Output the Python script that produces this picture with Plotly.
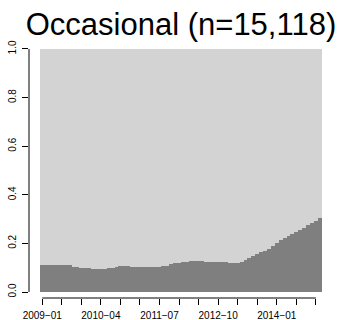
import pandas as pd
import plotly.graph_objects as go

# Monthly categories, Jan 2009 - Dec 2014
months = [d.strftime("%Y-%m") for d in pd.date_range("2009-01-01", "2014-12-01", freq="MS")]

# Share of the "occasional" group in the dark (lower) segment, per month
share = [
    0.110, 0.110, 0.110, 0.110, 0.110, 0.110, 0.110, 0.110,
    0.102, 0.101, 0.100,
    0.098, 0.097, 0.096, 0.095, 0.096, 0.096, 0.097,
    0.100, 0.104,
    0.107, 0.108, 0.106,
    0.104, 0.103, 0.103, 0.102, 0.102, 0.102, 0.103, 0.103,
    0.107, 0.109,
    0.115, 0.118, 0.119,
    0.122, 0.124, 0.126, 0.127,
    0.128, 0.128, 0.125, 0.124, 0.124,
    0.124, 0.123, 0.122, 0.121, 0.120,
    0.119, 0.122,
    0.130, 0.140, 0.148, 0.155, 0.163, 0.170, 0.178, 0.190,
    0.203, 0.215, 0.224, 0.232, 0.240, 0.248, 0.257, 0.265,
    0.274, 0.283, 0.293, 0.306,
]
rest = [1 - v for v in share]

tick_months = months[::5]
labelled = ["2009-01", "2010-04", "2011-07", "2012-10", "2014-01"]
tick_text = [m.replace("-", "\u2212") if m in labelled else "" for m in tick_months]

y_ticks = [0.0, 0.2, 0.4, 0.6, 0.8, 1.0]
y_text = ["0.0", "0.2", "0.4", "0.6", "0.8", "1.0"]

DARK = "#7f7f7f"
LIGHT = "#d3d3d3"
FONT = "Liberation Sans, Arial, Helvetica, sans-serif"

fig = go.Figure()
fig.add_trace(go.Bar(x=months, y=share, marker=dict(color=DARK, line=dict(width=0)),
                     width=1.0, hoverinfo="x+y"))
fig.add_trace(go.Bar(x=months, y=rest, marker=dict(color=LIGHT, line=dict(width=0)),
                     width=1.0, hoverinfo="x+y"))

fig.update_layout(
    width=344, height=320,
    margin=dict(l=29, r=11, t=39, b=22, autoexpand=False),
    barmode="stack", bargap=0,
    showlegend=False,
    plot_bgcolor="white", paper_bgcolor="white",
    font=dict(family=FONT, color="black", size=10),
    title=dict(text="Occasional (n=15,118)", x=0.5, xref="paper", xanchor="center",
               y=0.925, yref="container", yanchor="middle",
               font=dict(family=FONT, size=31, color="black")),
)

fig.update_xaxes(
    type="category", range=[-3.39, 74.39], automargin=False,
    showgrid=False, showline=False, zeroline=False,
    tickmode="array", tickvals=tick_months, ticktext=tick_text,
    ticks="outside", ticklen=6, tickwidth=1, tickcolor="black",
    tickangle=0, tickfont=dict(size=10, color="black"),
    ticklabelstandoff=2,
)
fig.update_yaxes(
    range=[-0.0247, 1.041], automargin=False,
    showgrid=False, showline=False, zeroline=False,
    tickmode="array", tickvals=y_ticks, ticktext=y_text,
    ticks="outside", ticklen=6, tickwidth=1, tickcolor="black",
    tickangle=-90, tickfont=dict(size=10, color="black"),
    ticklabelstandoff=2,
)

# Detached axis lines spanning only the tick range
fig.add_shape(type="line", xref="paper", yref="y", x0=0, x1=0, y0=0, y1=1,
              line=dict(color="black", width=1))
fig.add_shape(type="line", xref="x", yref="paper", x0=0, x1=70, y0=0, y1=0,
              line=dict(color="black", width=1))

fig.write_html("out.html")
